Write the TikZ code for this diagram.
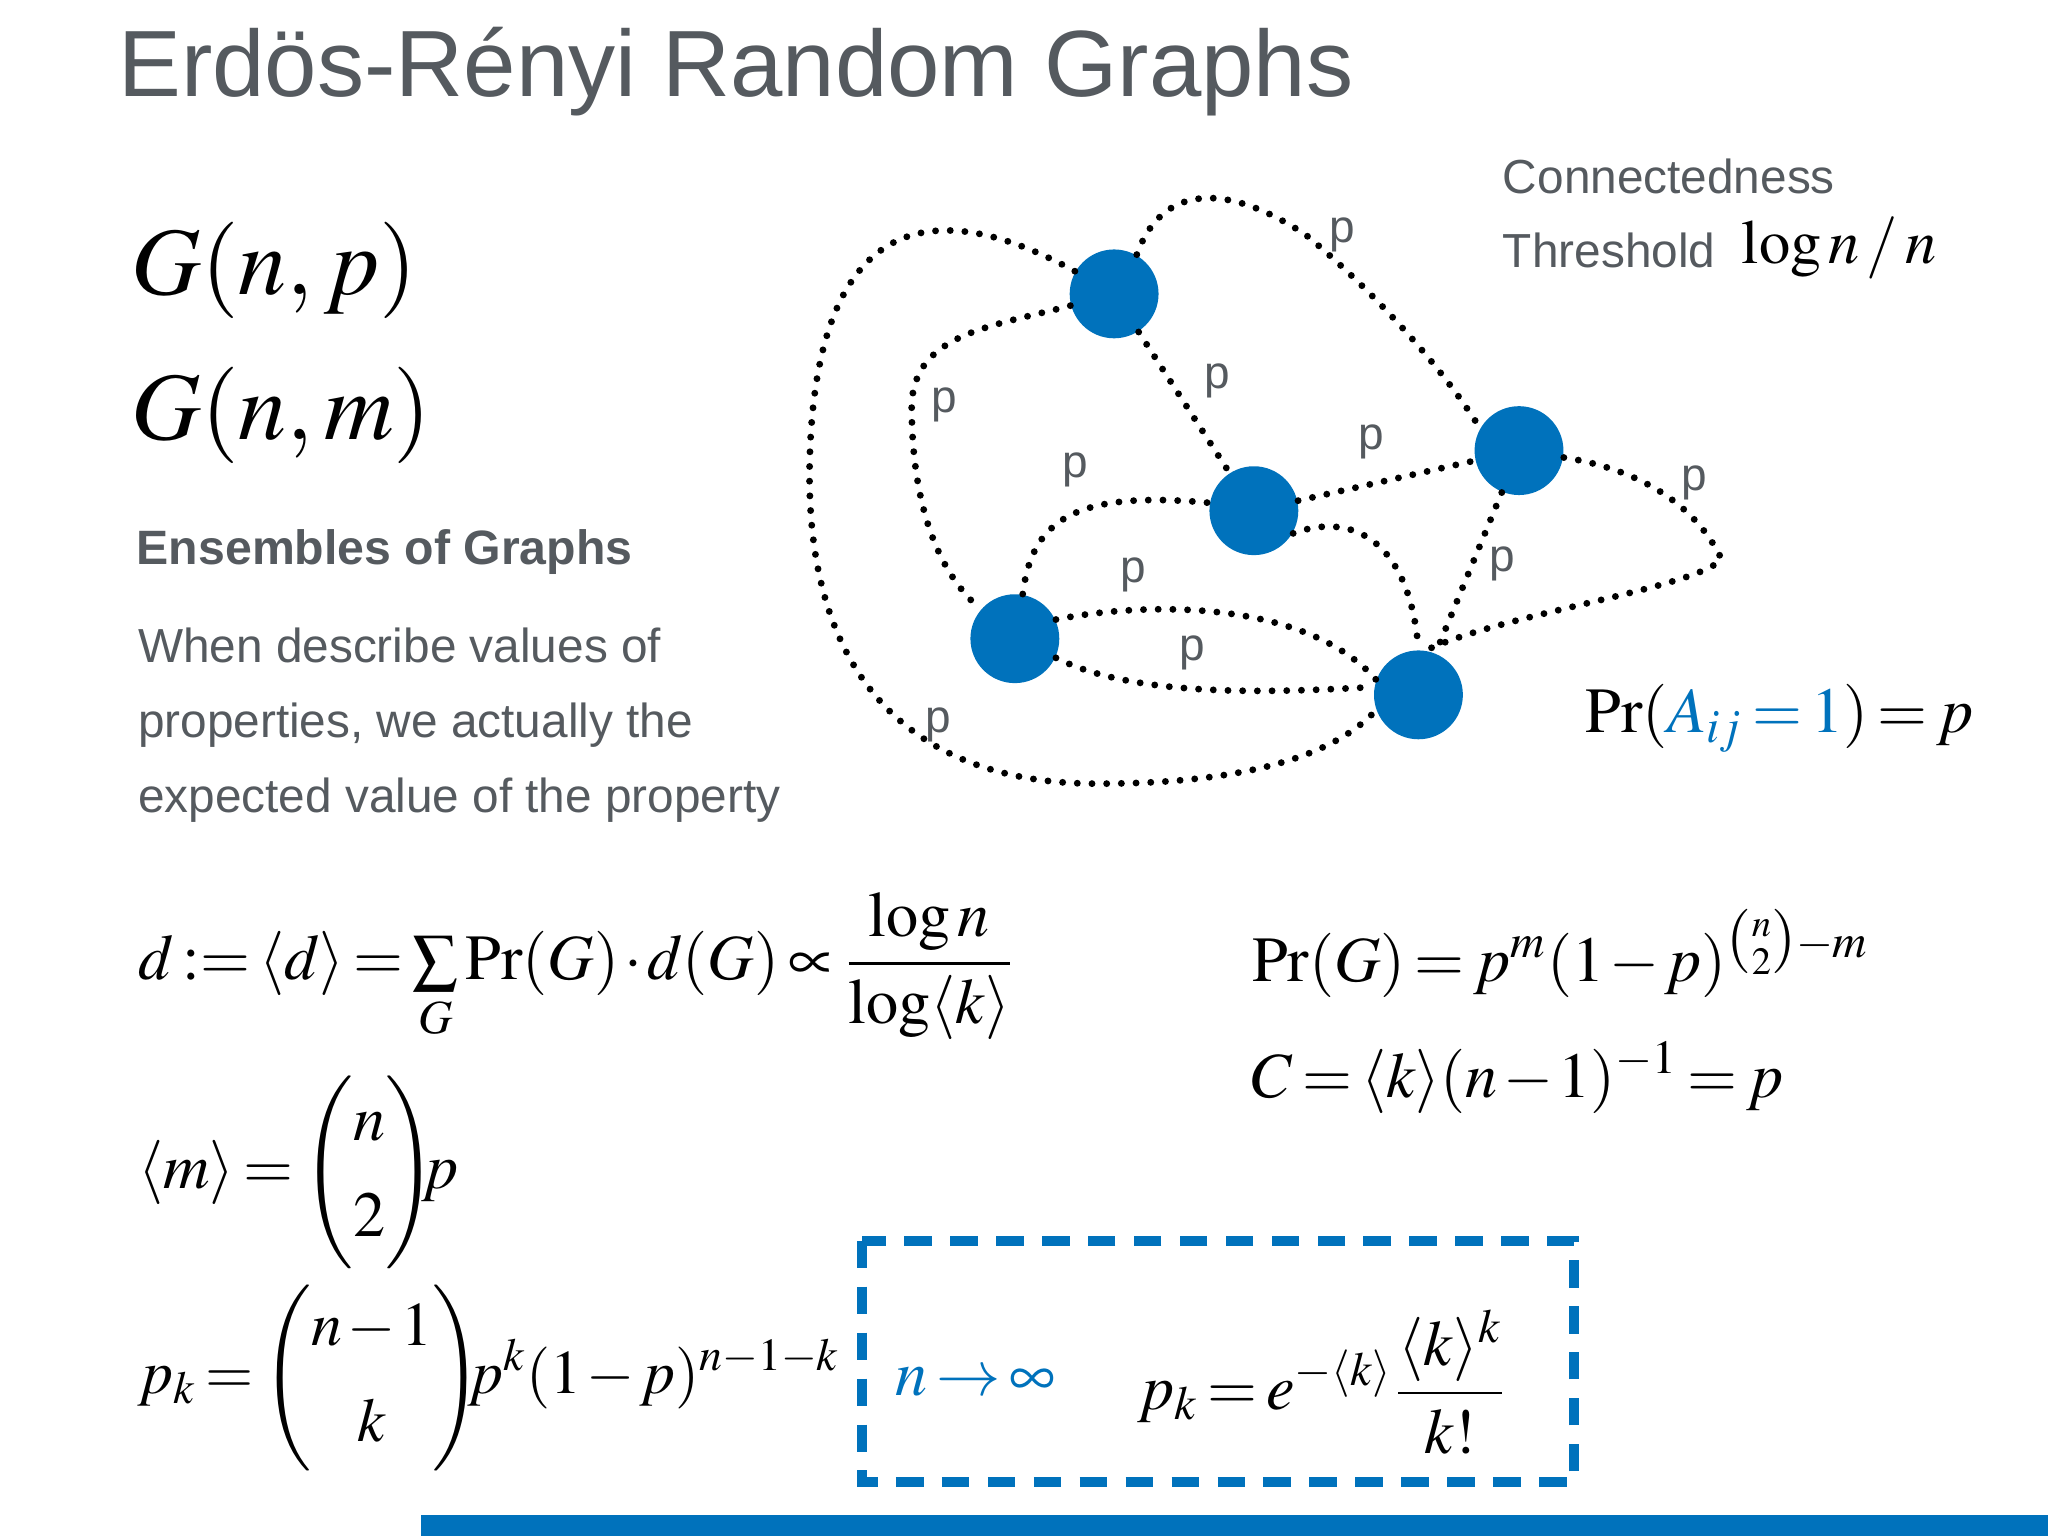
\documentclass[tikz,border=0pt]{standalone}
\usepackage{mathptmx}
\usepackage{amsmath}
\usepackage{fontspec}
\setsansfont{Liberation Sans}
\definecolor{blu}{RGB}{0,114,188}
\definecolor{gry}{RGB}{85,90,95}
\newcommand{\tightm}{\thickmuskip=2.5mu\medmuskip=1.5mu}
\newcommand{\bbin}[2]{\mathopen{}\left(\begin{matrix}#1\\[4pt]#2\end{matrix}\right)\mathclose{}\!\!}
\begin{document}
\begin{tikzpicture}[x=0.01cm,y=-0.01cm,
  vtx/.style={circle,fill=blu,minimum size=0.68cm,inner sep=0},
  ed/.style={line width=1.5pt,line cap=round,dash pattern=on 0pt off 3.2pt},
  pl/.style={font=\sffamily\fontsize{10}{12}\selectfont,text=gry},
  mt/.style={anchor=west,inner sep=0,font=\fontsize{14}{17}\selectfont\tightm},
  st/.style={anchor=west,inner sep=0,text=gry,font=\sffamily\fontsize{10.4}{13}\selectfont}]
\useasboundingbox (0,0) rectangle (1568,1176);
\fill[white] (0,0) rectangle (1568,1176);
\node[st,font=\sffamily\fontsize{20.5}{24}\selectfont] (title) at (90,55) {Erdös-Rényi Random Graphs};
\node (A) [vtx] at (853,225) {};
\node (B) [vtx] at (1163,345) {};
\node (C) [vtx] at (960,391) {};
\node (D) [vtx] at (777,489) {};
\node (E) [vtx] at (1086,532) {};
\coordinate (R) at (1318,428);
\draw[ed] (A) .. controls (760,250) and (700,255) .. (698,310) .. controls (698,390) and (720,440) .. (D);
\draw[ed] (A.150) .. controls (700,140) and (625,180) .. (620,350) .. controls (615,520) and (700,600) .. (840,600) .. controls (950,600) and (1020,580) .. (E.200);
\draw[ed] (A.60) .. controls (890,140) and (940,140) .. (1000,180) .. controls (1060,230) and (1110,290) .. (B.150);
\draw[ed] (A) -- (C);
\draw[ed] (C) -- (B);
\draw[ed] (B) .. controls (1260,360) and (1300,390) .. (R) .. controls (1300,450) and (1150,470) .. (E.80);
\draw[ed] (B) -- (E);
\draw[ed] (D.80) .. controls (790,400) and (820,375) .. (C.170);
\draw[ed] (C.330) .. controls (1040,390) and (1080,420) .. (E.90);
\draw[ed] (D.25) .. controls (880,460) and (1000,460) .. (E.160);
\draw[ed] (D.335) .. controls (870,535) and (980,530) .. (E.170);
\node[pl] (p1) at (1028,180) {p};
\node[pl] (p2) at (932,292) {p};
\node[pl] (p3) at (723,310) {p};
\node[pl] (p4) at (1050,338) {p};
\node[pl] (p5) at (823,360) {p};
\node[pl] (p6) at (1297,370) {p};
\node[pl] (p7) at (1150,432) {p};
\node[pl] (p8) at (868,440) {p};
\node[pl] (p9) at (913,500) {p};
\node[pl] (p10) at (718,555) {p};
\node[st] (ct) at (1150,135) {Connectedness};
\node[st] (th) at (1150,192) {Threshold};
\node[mt,font=\fontsize{13.6}{16}\selectfont] (thm) at (1333,190) {$\log n\,/\,n$};
\node[mt,font=\fontsize{21}{25}\selectfont] (gnp) at (100,207) {$G(n,p)$};
\node[mt,font=\fontsize{21}{25}\selectfont] (gnm) at (100,318) {$G(n,m)$};
\node[st,font=\sffamily\bfseries\fontsize{10.5}{13}\selectfont] (ens) at (104,423) {Ensembles of Graphs};
\node[st,anchor=north west,align=left,font=\sffamily\fontsize{10.4}{16.3}\selectfont] (desc) at (105,480) {When describe values of\\ properties, we actually the\\ expected value of the property};
\node[mt] (pra) at (1213,550) {$\Pr(\textcolor{blu}{A_{ij}=1})=p$};
\node[mt] (dd) at (105,740) {$d\mathrel{:=}\langle d\rangle=\sum\limits_{G}\Pr(G)\cdot d(G)\propto\dfrac{\log n}{\log\langle k\rangle}$};
\node[mt] (prg) at (958,730) {$\Pr(G)=p^m(1-p)^{\binom{n}{2}-m}$};
\node[mt] (cc) at (958,825) {$C=\langle k\rangle(n-1)^{-1}=p$};
\node[mt] (mm) at (105,898) {$\langle m\rangle=\bbin{n}{2}p$};
\node[mt,font=\fontsize{13.5}{17}\selectfont\tightm] (pk) at (105,1055) {$p_k=\bbin{n-1}{k}p^k(1-p)^{n-1-k}$};
\draw[blu,line width=2.2pt,dash pattern=on 6pt off 4pt] (660,950) rectangle (1205,1135);
\node[mt] (ninf) at (685,1058) {$\textcolor{blu}{n\to\infty}$};
\node[mt] (poi) at (870,1058) {$p_k=e^{-\langle k\rangle}\dfrac{\langle k\rangle^k}{k!}$};
\fill[blu] (322,1160) rectangle (1568,1176);
\end{tikzpicture}
\end{document}
